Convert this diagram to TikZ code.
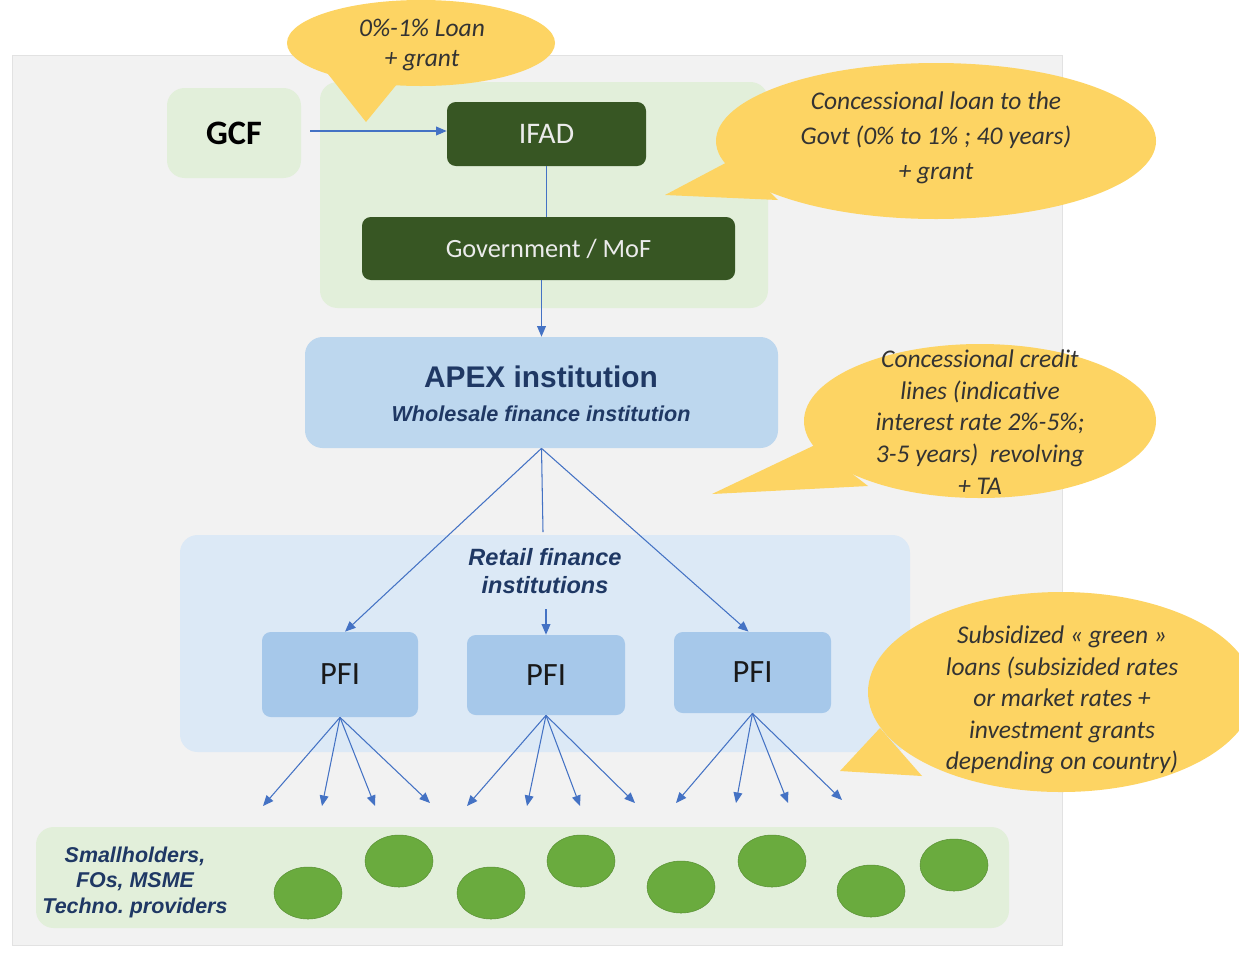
\documentclass[tikz,border=0pt]{standalone}
\usepackage{fontspec}
\setmainfont{Carlito}
\newfontfamily\arialf{Liberation Sans}
\usetikzlibrary{arrows.meta,calc,shapes.geometric}
\definecolor{panelgrey}{HTML}{F2F2F2}
\definecolor{panelline}{HTML}{E2E2E2}
\definecolor{lgreen}{HTML}{E2EFDA}
\definecolor{dgreen}{HTML}{375623}
\definecolor{apexblue}{HTML}{BDD7EE}
\definecolor{retailblue}{HTML}{DCE9F6}
\definecolor{pfiblue}{HTML}{A6C8EA}
\definecolor{circgreen}{HTML}{6AAB3E}
\definecolor{bubyellow}{HTML}{FDD463}
\definecolor{arrowblue}{HTML}{4472C4}
\definecolor{navy}{HTML}{1F3864}
\definecolor{bubtext}{HTML}{333333}
\tikzset{
  sz/.style 2 args={minimum width=#1*0.02cm, minimum height=#2*0.02cm, inner sep=0pt},
  regionbox/.style={fill=#1, rounded corners=10pt},
  plainbox/.style={fill=#1, rounded corners=5pt},
  circnode/.style={ellipse, fill=circgreen, draw=circgreen!85!black, line width=0.3pt, minimum width=68*0.02cm, minimum height=52*0.02cm, inner sep=0pt},
  bubble/.style={ellipse, fill=bubyellow, inner sep=0pt},
  bubtail/.style={fill=bubyellow},
  bubtxt/.style={text=bubtext, align=center, font=\itshape\fontsize{14.5}{#1}\selectfont},
  arr/.style={draw=arrowblue, line width=0.6pt, -{Triangle[length=6pt,width=5pt]}},
  ln/.style={draw=arrowblue, line width=0.6pt},
}
\begin{document}
\frenchspacing
\begin{tikzpicture}[x=0.02cm,y=-0.02cm]
\useasboundingbox (0,0) rectangle (1239,954);
\fill[white] (0,0) rectangle (1239,954);
% panel
\node[sz={1050}{890}, fill=panelgrey, draw=panelline, line width=0.5pt] (panel) at (537,500) {};
% regions
\node[sz={134}{90}, regionbox=lgreen] (gcf) at (234,133) {\fontsize{19.5}{20}\selectfont\bfseries GCF};
\node[sz={448}{226}, regionbox=lgreen] (ifadreg) at (544,195) {};
\node[sz={730}{217}, regionbox=retailblue] (retailreg) at (545,643.5) {};
\node[sz={973}{101}, regionbox=lgreen] (band) at (522.5,877.5) {};
% boxes
\node[sz={199}{64}, plainbox=dgreen, text=white!92!black] (ifad) at (546.5,134) {\fontsize{17}{18}\selectfont IFAD};
\node[sz={373}{63}, plainbox=dgreen, text=white!92!black] (gov) at (548.5,248.5) {\fontsize{15}{16}\selectfont Government / MoF};
\node[sz={473}{111}, regionbox=apexblue] (apex) at (541.5,392.5) {};
\node[text=navy] (apext1) at (541,377) {\arialf\bfseries\fontsize{17}{19}\selectfont APEX institution};
\node[text=navy] (apext2) at (541,414) {\arialf\bfseries\itshape\fontsize{12.3}{14}\selectfont Wholesale finance institution};
\node[text=navy, align=center, font=\arialf\bfseries\itshape\fontsize{13.4}{16}\selectfont] (retailt) at (545,571) {Retail finance\\ institutions};
\node[sz={156}{85}, plainbox=pfiblue, text=black!90] (pfi1) at (340,674.5) {\fontsize{18.5}{19}\selectfont PFI};
\node[sz={158}{80}, plainbox=pfiblue, text=black!90] (pfi2) at (546,675) {\fontsize{18.5}{19}\selectfont PFI};
\node[sz={157}{81}, plainbox=pfiblue, text=black!90] (pfi3) at (752.5,672.5) {\fontsize{18.5}{19}\selectfont PFI};
% beneficiaries
\node[text=navy, align=center, font=\arialf\bfseries\itshape\fontsize{12.2}{14.5}\selectfont] (benef) at (135,882) {Smallholders,\\ FOs, MSME\\ Techno.\ providers};
\node[circnode] (c1) at (308,893) {};
\node[circnode] (c2) at (399,861) {};
\node[circnode] (c3) at (491,893) {};
\node[circnode] (c4) at (581,861) {};
\node[circnode] (c5) at (681,887) {};
\node[circnode] (c6) at (772,861) {};
\node[circnode] (c7) at (871,891) {};
\node[circnode] (c8) at (954,865) {};
% bubbles
\fill[bubtail] (328,74) -- (366,122) -- (402,78) -- cycle;
\node[bubble, sz={268}{86}] (b1) at (421,43) {};
\fill[bubtail] (735,158) -- (665,195) -- (778,200) -- cycle;
\node[bubble, sz={440}{156}] (b2) at (936,141) {};
\fill[bubtail] (815,445) -- (712,494) -- (868,486) -- cycle;
\node[bubble, sz={352}{154}] (b3) at (980,421) {};
\fill[bubtail] (880,728) -- (840,771) -- (922,776) -- cycle;
\node[bubble, sz={386}{200}] (b4) at (1061,692) {};
\node[bubtxt=17.6] (b1t) at (422,45) {0\%-1\% Loan\\ + grant};
\node[bubtxt=20] (b2t) at (936,138) {Concessional loan to the\\ Govt (0\% to 1\% ; 40 years)\\ + grant};
\node[bubtxt=18] (b3t) at (980,422) {Concessional credit\\ lines (indicative\\ interest rate 2\%-5\%;\\ 3-5 years)\ \ revolving\\ + TA};
\node[bubtxt=17.9] (b4t) at (1062,700) {Subsidized « green »\\ loans (subsizided rates\\ or market rates +\\ investment grants\\ depending on country)};
% connectors
\draw[arr] ($(gcf.east)+(9,-2)$) -- (ifad.west |- 0,131);
\draw[ln] (ifad.south) -- (gov.north -| ifad.south);
\draw[arr] (gov.south -| apex.south) -- (apex.north);
\coordinate (midtop) at (543,532);
\coordinate (midbot) at (546,609);
\draw[arr] (apex.south) -- ($(pfi1.north)+(5,0)$);
\draw[ln] (apex.south) -- (midtop);
\draw[arr] (midbot) -- (pfi2.north);
\draw[arr] (apex.south) -- ($(pfi3.north)+(-4,0)$);
% fans
\foreach \i/\x/\y in {1/263/806,2/322/806,3/375/806,4/430/803}{
  \coordinate (fa\i) at (\x,\y);
  \draw[arr] (pfi1.south) -- (fa\i);
}
\foreach \i/\x/\y in {1/467/806,2/527/806,3/580/806,4/635/803}{
  \coordinate (fb\i) at (\x,\y);
  \draw[arr] (pfi2.south) -- (fb\i);
}
\foreach \i/\x/\y in {1/676/803,2/736/803,3/788/803,4/842/800}{
  \coordinate (fc\i) at (\x,\y);
  \draw[arr] (pfi3.south) -- (fc\i);
}
\end{tikzpicture}
\end{document}
